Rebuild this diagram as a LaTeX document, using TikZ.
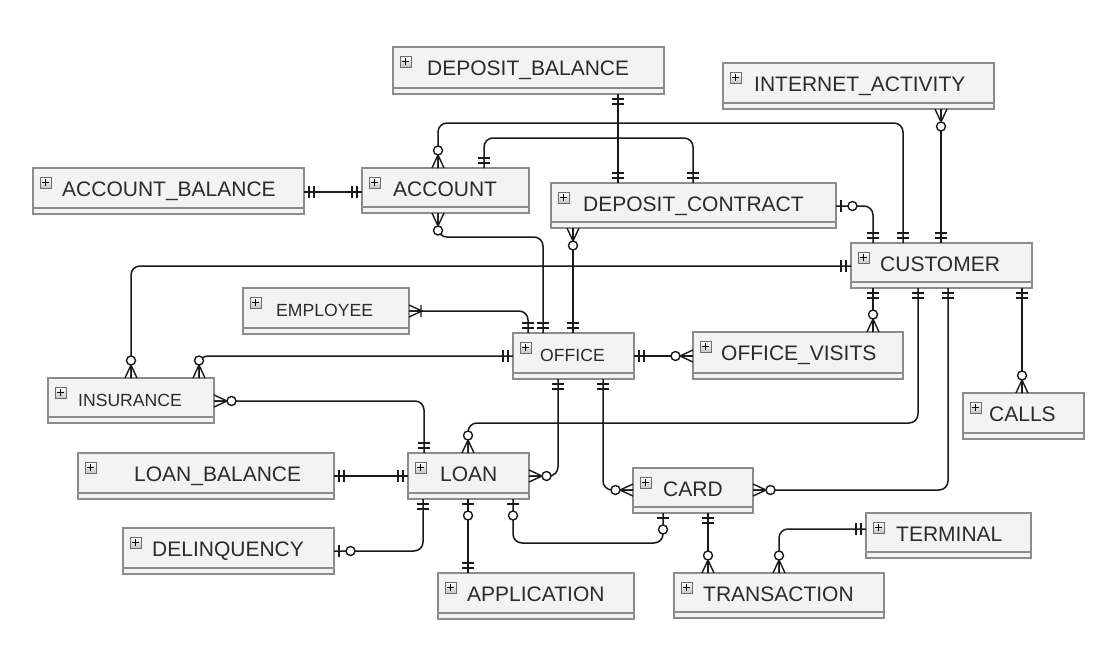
\documentclass[tikz,border=0pt]{standalone}
\usepackage{fontspec}
\setmainfont{Liberation Sans}
\usetikzlibrary{calc}
\definecolor{boxfill}{HTML}{F3F3F3}
\definecolor{boxline}{HTML}{8C8C8C}
\definecolor{txt}{HTML}{2B2B2B}
\definecolor{conn}{HTML}{1A1A1A}
\tikzset{
 entbox/.style={draw=boxline, fill=boxfill, line width=1.4pt, inner sep=0pt, outer sep=0pt},
 plusbox/.style={draw=gray!85!black, top color=white, bottom color=gray!45, line width=0.8pt,
   minimum size=11pt, inner sep=0pt, outer sep=0pt,
   path picture={\draw[line width=1.3pt,black]
     ($(path picture bounding box.center)+(-3.5pt,0pt)$) -- ($(path picture bounding box.center)+(3.5pt,0pt)$)
     ($(path picture bounding box.center)+(0pt,-3.5pt)$) -- ($(path picture bounding box.center)+(0pt,3.5pt)$);}},
 bigtxt/.style={font=\fontsize{21}{25}\selectfont, text=txt, inner sep=0pt},
 smalltxt/.style={font=\fontsize{17.6}{21}\selectfont, text=txt, inner sep=0pt},
 link/.style={draw=conn, line width=1.5pt, rounded corners=9pt},
 mk/.style={draw=conn, line width=1.4pt},
 circ/.style={draw=conn, fill=white, line width=1.4pt},
 strip/.style={draw=boxline, line width=1.2pt},
}
% #1 name, #2 x1, #3 y1, #4 x2, #5 y2, #6 text offset, #7 text style, #8 text
\newcommand\entity[8]{%
 \node[entbox, minimum width=#4-#2, minimum height=#5-#3, anchor=north west] (#1) at (#2,-#3) {};
 \draw[strip] (#2,-#5+6) -- (#4,-#5+6);
 \node[plusbox, anchor=north west] (#1-p) at (#2+7,-#3-9) {};
 \node[#7, anchor=base west] (#1-t) at (#2+#6,-#3-28) {#8};
}
\newcommand\mOne[2]{\begin{scope}[shift={#1},rotate=#2]\draw[mk] (5,-6)--(5,6) (10,-6)--(10,6);\end{scope}}
\newcommand\mZM[2]{\begin{scope}[shift={#1},rotate=#2]\draw[mk] (0,-6)--(13,0)--(0,6) (0,0)--(13,0);\draw[circ] (17.5,0) circle[radius=4.5];\end{scope}}
\newcommand\mOM[2]{\begin{scope}[shift={#1},rotate=#2]\draw[mk] (0,-6)--(13,0)--(0,6) (0,0)--(13,0) (12,-6)--(12,6);\end{scope}}
\newcommand\mZO[2]{\begin{scope}[shift={#1},rotate=#2]\draw[mk] (5,-6)--(5,6);\draw[circ] (16.5,0) circle[radius=4.5];\end{scope}}
\begin{document}
\begin{tikzpicture}[x=1pt,y=1pt]
\useasboundingbox[fill=white] (0,0) rectangle (1116,-654);
% entities
\entity{dbal}{393}{47}{664}{94}{34}{bigtxt}{DEPOSIT\_BALANCE}
\entity{iact}{723}{63}{994}{109}{31}{bigtxt}{INTERNET\_ACTIVITY}
\entity{abal}{33}{168}{304}{214}{29}{bigtxt}{ACCOUNT\_BALANCE}
\entity{acc}{362}{168}{529}{213}{31}{bigtxt}{ACCOUNT}
\entity{dcon}{551}{183}{836}{228}{32}{bigtxt}{DEPOSIT\_CONTRACT}
\entity{cust}{851}{243}{1032}{288}{29}{bigtxt}{CUSTOMER}
\entity{emp}{243}{288}{409}{334}{33}{smalltxt}{EMPLOYEE}
\entity{office}{513}{333}{634}{379}{27}{smalltxt}{OFFICE}
\entity{ovis}{693}{332}{903}{379}{28}{bigtxt}{OFFICE\_VISITS}
\entity{calls}{963}{393}{1084}{439}{26}{bigtxt}{CALLS}
\entity{ins}{48}{378}{214}{423}{30}{smalltxt}{INSURANCE}
\entity{lbal}{78}{453}{334}{499}{56}{bigtxt}{LOAN\_BALANCE}
\entity{loan}{408}{453}{529}{499}{32}{bigtxt}{LOAN}
\entity{card}{633}{468}{753}{513}{30}{bigtxt}{CARD}
\entity{del}{123}{528}{334}{574}{29}{bigtxt}{DELINQUENCY}
\entity{app}{438}{573}{634}{619}{29}{bigtxt}{APPLICATION}
\entity{term}{866}{513}{1031}{558}{30}{bigtxt}{TERMINAL}
\entity{trans}{674}{573}{884}{618}{29}{bigtxt}{TRANSACTION}
% connector end points
\coordinate (c1a) at (dbal.south -| 618,0);   \coordinate (c1b) at (dcon.north -| 618,0);
\coordinate (c2a) at (acc.north -| 438,0);    \coordinate (c2b) at (cust.north -| 903,0);
\coordinate (c3a) at (acc.north -| 484,0);    \coordinate (c3b) at (dcon.north -| 693,0);
\coordinate (c4a) at (dcon.east |- 0,-206);   \coordinate (c4b) at (cust.north -| 873,0);
\coordinate (c5a) at (iact.south -| 941,0);   \coordinate (c5b) at (cust.north -| 941,0);
\coordinate (c6a) at (abal.east |- 0,-192);   \coordinate (c6b) at (acc.west |- 0,-192);
\coordinate (c7a) at (acc.south -| 438,0);    \coordinate (c7b) at (office.north -| 543,0);
\coordinate (c8a) at (dcon.south -| 573,0);   \coordinate (c8b) at (office.north -| 573,0);
\coordinate (c9a) at (emp.east |- 0,-311);    \coordinate (c9b) at (office.north -| 528,0);
\coordinate (c10a) at (cust.west |- 0,-266);  \coordinate (c10b) at (ins.north -| 131,0);
\coordinate (c11a) at (office.west |- 0,-356);\coordinate (c11b) at (ins.north -| 199,0);
\coordinate (c12a) at (office.east |- 0,-356);\coordinate (c12b) at (ovis.west |- 0,-356);
\coordinate (c13a) at (cust.south -| 873,0);  \coordinate (c13b) at (ovis.north -| 873,0);
\coordinate (c14a) at (cust.south -| 918,0);  \coordinate (c14b) at (loan.north -| 468,0);
\coordinate (c15a) at (cust.south -| 948,0);  \coordinate (c15b) at (card.east |- 0,-490);
\coordinate (c16a) at (cust.south -| 1022,0); \coordinate (c16b) at (calls.north -| 1022,0);
\coordinate (c17a) at (ins.east |- 0,-401);   \coordinate (c17b) at (loan.north -| 424,0);
\coordinate (c18a) at (office.south -| 558,0);\coordinate (c18b) at (loan.east |- 0,-476);
\coordinate (c19a) at (office.south -| 603,0);\coordinate (c19b) at (card.west |- 0,-490);
\coordinate (c20a) at (lbal.east |- 0,-476);  \coordinate (c20b) at (loan.west |- 0,-476);
\coordinate (c21a) at (loan.south -| 423,0);  \coordinate (c21b) at (del.east |- 0,-551);
\coordinate (c22a) at (loan.south -| 468,0);  \coordinate (c22b) at (app.north -| 468,0);
\coordinate (c23a) at (loan.south -| 513,0);  \coordinate (c23b) at (card.south -| 663,0);
\coordinate (c24a) at (card.south -| 708,0);  \coordinate (c24b) at (trans.north -| 708,0);
\coordinate (c25a) at (term.west |- 0,-529);  \coordinate (c25b) at (trans.north -| 779,0);
% connectors
\draw[link] (c1a) -- (c1b);
\draw[link] (c2a) |- (903,-123) -- (c2b);
\draw[link] (c3a) |- (693,-138) -- (c3b);
\draw[link] (c4a) -| (c4b);
\draw[link] (c5a) -- (c5b);
\draw[link] (c6a) -- (c6b);
\draw[link] (c7a) |- (543,-237) -- (c7b);
\draw[link] (c8a) -- (c8b);
\draw[link] (c9a) -| (c9b);
\draw[link] (c10a) -| (c10b);
\draw[link] (c11a) -| (c11b);
\draw[link] (c12a) -- (c12b);
\draw[link] (c13a) -- (c13b);
\draw[link] (c14a) |- (468,-423) -- (c14b);
\draw[link] (c15a) |- (c15b);
\draw[link] (c16a) -- (c16b);
\draw[link] (c17a) -| (c17b);
\draw[link] (c18a) |- (c18b);
\draw[link] (c19a) |- (c19b);
\draw[link] (c20a) -- (c20b);
\draw[link] (c21a) |- (c21b);
\draw[link] (c22a) -- (c22b);
\draw[link] (c23a) |- (663,-543) -- (c23b);
\draw[link] (c24a) -- (c24b);
\draw[link] (c25a) -| (c25b);
% end markers
\mOne{(c1a)}{-90} \mOne{(c1b)}{90}
\mZM{(c2a)}{90}   \mOne{(c2b)}{90}
\mOne{(c3a)}{90}  \mOne{(c3b)}{90}
\mZO{(c4a)}{0}    \mOne{(c4b)}{90}
\mZM{(c5a)}{-90}  \mOne{(c5b)}{90}
\mOne{(c6a)}{0}   \mOne{(c6b)}{180}
\mZM{(c7a)}{-90}  \mOne{(c7b)}{90}
\mZM{(c8a)}{-90}  \mOne{(c8b)}{90}
\mOM{(c9a)}{0}    \mOne{(c9b)}{90}
\mOne{(c10a)}{180} \mZM{(c10b)}{90}
\mOne{(c11a)}{180} \mZM{(c11b)}{90}
\mOne{(c12a)}{0}  \mZM{(c12b)}{180}
\mOne{(c13a)}{-90} \mZM{(c13b)}{90}
\mOne{(c14a)}{-90} \mZM{(c14b)}{90}
\mOne{(c15a)}{-90} \mZM{(c15b)}{0}
\mOne{(c16a)}{-90} \mZM{(c16b)}{90}
\mZM{(c17a)}{0}   \mOne{(c17b)}{90}
\mOne{(c18a)}{-90} \mZM{(c18b)}{0}
\mOne{(c19a)}{-90} \mZM{(c19b)}{180}
\mOne{(c20a)}{0}  \mOne{(c20b)}{180}
\mOne{(c21a)}{-90} \mZO{(c21b)}{0}
\mZO{(c22a)}{-90} \mOne{(c22b)}{90}
\mZO{(c23a)}{-90} \mZO{(c23b)}{-90}
\mOne{(c24a)}{-90} \mZM{(c24b)}{90}
\mOne{(c25a)}{180} \mZM{(c25b)}{90}
\end{tikzpicture}
\end{document}
